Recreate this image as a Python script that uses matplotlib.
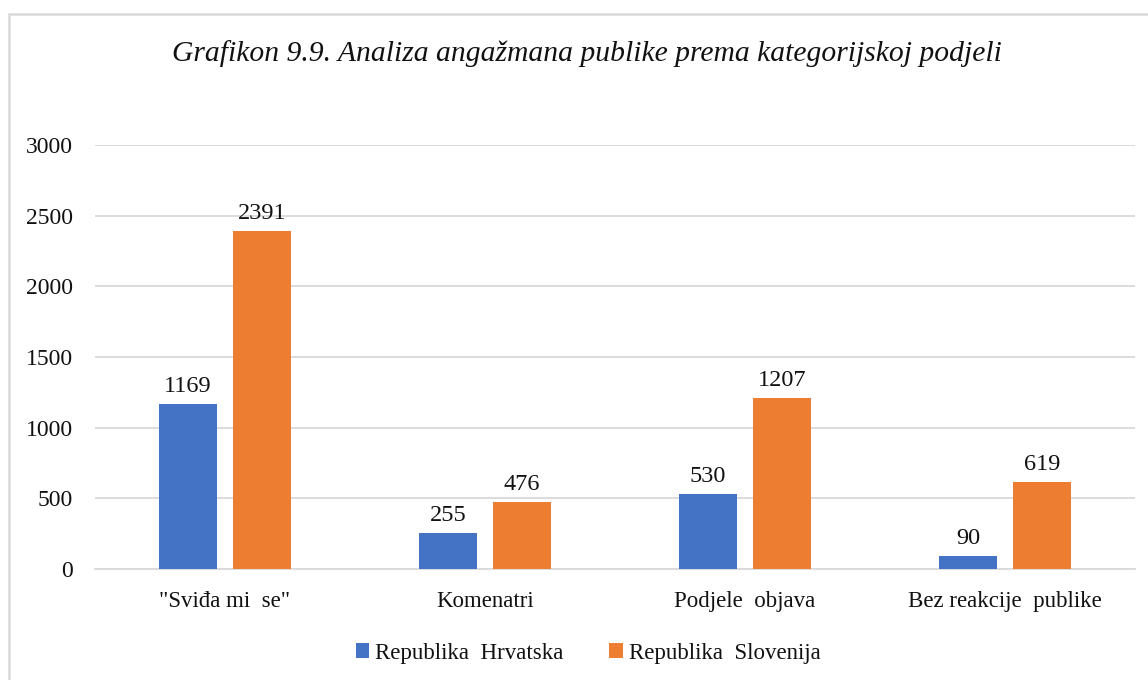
import matplotlib
matplotlib.use("Agg")
import matplotlib.pyplot as plt
from matplotlib.patches import Rectangle
import numpy as np

categories = ['"Sviđa mi  se"', 'Komenatri', 'Podjele  objava', 'Bez reakcije  publike']
hrvatska = [1169, 255, 530, 90]
slovenija = [2391, 476, 1207, 619]
series_names = ['Republika  Hrvatska', 'Republika  Slovenija']
yticks = [0, 500, 1000, 1500, 2000, 2500, 3000]

plt.rcParams['font.family'] = ['Liberation Serif', 'DejaVu Serif']

W, H = 1148, 680
fig = plt.figure(figsize=(W / 100, H / 100), dpi=100)
ax = fig.add_axes([95 / W, 1 - 569 / H, (1135 - 95) / W, (569 - 145) / H])

# outer border
fig.patches.append(Rectangle((9 / W, -0.05), 1.2, 1 - 14 / H + 0.05, transform=fig.transFigure,
                             fill=False, edgecolor='#D9D9D9', linewidth=1.8, zorder=0))

txt = '#111111'
x = np.arange(len(categories))
bw = 0.223
gap = 0.062
off = (bw + gap) / 2
blue = '#4472C4'
orange = '#ED7D31'
b1 = ax.bar(x - off, hrvatska, bw, color=blue, label=series_names[0], zorder=3)
b2 = ax.bar(x + off, slovenija, bw, color=orange, label=series_names[1], zorder=3)

for bars in (b1, b2):
    for r in bars:
        ax.annotate(f"{int(r.get_height())}", (r.get_x() + r.get_width() / 2, r.get_height()),
                    xytext=(0, 5), textcoords='offset points', ha='center', va='bottom',
                    fontsize=17.5, color=txt)

ax.set_xlim(-0.5, len(categories) - 0.5)
ax.set_ylim(0, 3000)
ax.set_yticks(yticks)
ax.set_xticks(x)
ax.set_xticklabels(categories, fontsize=16.5, color=txt)
ax.tick_params(axis='y', labelsize=17, colors=txt, length=0, pad=16)
ax.tick_params(axis='x', length=0, pad=16)
ax.yaxis.grid(True, color='#D9D9D9', linewidth=1.3, zorder=0)
for s in ['top', 'right', 'left']:
    ax.spines[s].set_visible(False)
ax.spines['bottom'].set_color('#D9D9D9')
ax.spines['bottom'].set_linewidth(1.3)

fig.text(587 / W, 1 - 54 / H, 'Grafikon 9.9. Analiza angažmana publike prema kategorijskoj podjeli',
         ha='center', va='center', fontsize=21.3, style='italic', color=txt)

leg = fig.legend(handles=[b1, b2], labels=series_names, loc='center', bbox_to_anchor=(588 / W, 1 - 653 / H),
                 ncol=2, frameon=False, fontsize=16.5, handlelength=0.6, handleheight=0.6,
                 handletextpad=0.25, columnspacing=2.0)
for t in leg.get_texts():
    t.set_color(txt)

fig.savefig('out.png', dpi=100)
